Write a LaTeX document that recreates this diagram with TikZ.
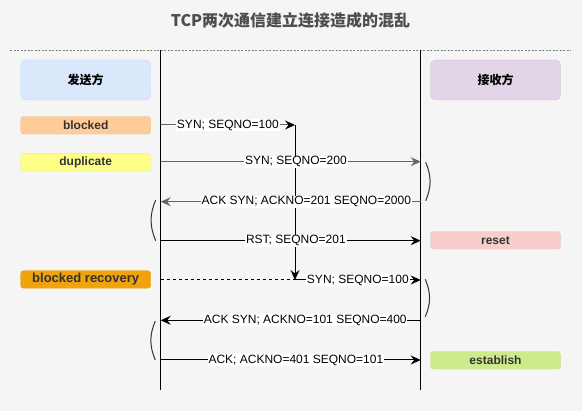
\documentclass[tikz,border=0pt]{standalone}
\usepackage{fontspec}
\setmainfont{Liberation Sans}
\newfontfamily\cjk{Noto Sans CJK SC}
\usetikzlibrary{arrows.meta,positioning}
\definecolor{bgc}{HTML}{F5F5F5}
\definecolor{titlec}{HTML}{4D4D4D}
\definecolor{txt}{HTML}{333333}
\definecolor{msgc}{HTML}{666666}
\definecolor{sendc}{HTML}{DAE8FC}
\definecolor{recvc}{HTML}{E1D5E7}
\definecolor{blockc}{HTML}{FFCC99}
\definecolor{dupc}{HTML}{FFFF88}
\definecolor{resetc}{HTML}{F8CECC}
\definecolor{recovc}{HTML}{F0A30A}
\definecolor{estabc}{HTML}{CDEB8B}

\begin{document}
\begin{tikzpicture}[x=1pt,y=-1pt,
  party/.style={rounded corners=5pt, minimum width=130pt, minimum height=40pt, inner sep=0pt, font=\cjk\fontsize{12}{14}\selectfont\bfseries, text=black},
  tag/.style={rounded corners=3pt, minimum width=130pt, minimum height=17.5pt, inner sep=0pt, font=\fontsize{12}{14}\selectfont\bfseries, text=txt},
  msg/.style={fill=white, inner sep=0.8pt, font=\fontsize{12}{14}\selectfont, text=black},
  tip/.style={-{Stealth[length=10pt,width=9pt,inset=3.5pt]}},
  brace/.style={txt, line width=1pt}]
\fill[bgc] (0,0) rectangle (582,411);
\node[font=\cjk\fontsize{16}{18}\selectfont\bfseries, text=titlec] (title) at (290.5,20) {TCP两次通信建立连接造成的混乱};
\draw[gray, line width=0.8pt, dash pattern=on 2pt off 1.5pt] (10,50.5) -- (571,50.5);

\coordinate (stop) at (160.7,50.5);
\coordinate (sbot) at (160.7,390);
\coordinate (rtop) at (420.7,50.5);
\coordinate (rbot) at (420.7,390);
\draw[line width=1pt] (stop) -- (sbot);
\draw[line width=1pt] (rtop) -- (rbot);

\node[party, fill=sendc, draw=sendc!93!black] (sender) at (85.7,80) {发送方};
\node[party, fill=recvc, draw=recvc!93!black] (receiver) at (495.5,80) {接收方};

\node[tag, fill=blockc, draw=blockc!93!black] (blocked) at (85.7,125.3) {blocked};
\node[tag, fill=dupc, draw=dupc!93!black] (dup) at (85.7,162.2) {duplicate};
\node[tag, fill=resetc, draw=resetc!93!black] (reset) at (495.5,240.3) {reset};
\node[tag, fill=recovc, draw=recovc!93!black, font=\fontsize{13}{15}\selectfont\bfseries] (recov) at (85.7,279.5) {blocked recovery};
\node[tag, fill=estabc, draw=estabc!93!black] (estab) at (495.5,360.3) {establish};

\foreach \n/\y in {1/125,2/161.7,3/201.7,4/240.7,5/280,6/320.3,7/360}{
  \coordinate (s\n) at (160.7,\y);
  \coordinate (r\n) at (420.7,\y);
}
\coordinate (hold) at (295,125);
\coordinate (release) at (295,280);

\draw[-{Stealth[length=10pt,width=9pt,inset=3.5pt,black]}, msgc, line width=1pt] (s1) -- node[msg]{SYN; SEQNO=100} (hold);
\draw[tip, line width=1pt] (hold) -- (release);
\draw[line width=1pt, dash pattern=on 3pt off 3pt] (s5) -- (release);
\draw[tip, line width=1pt] (release) -- node[msg]{SYN; SEQNO=100} (r5);
\draw[tip, msgc, line width=1pt] (s2) -- node[msg, pos=0.52]{SYN; SEQNO=200} (r2);
\draw[tip, msgc, line width=1pt] (r3) -- node[msg, pos=0.44]{ACK SYN; ACKNO=201 SEQNO=2000} (s3);
\draw[tip, line width=1pt] (s4) -- node[msg, pos=0.52]{RST; SEQNO=201} (r4);
\draw[tip, line width=1pt] (r6) -- node[msg, pos=0.444]{ACK SYN; ACKNO=101 SEQNO=400} (s6);
\draw[tip, line width=1pt] (s7) -- node[msg, pos=0.52]{ACK; ACKNO=401 SEQNO=101} (r7);

\draw[brace] (425.7,162.3) to[bend left=23] (425.7,200.7);
\draw[brace] (155.7,200) to[bend right=23] (155.7,240.7);
\draw[brace] (425.3,279.3) to[bend left=23] (425.3,316.7);
\draw[brace] (155.3,321) to[bend right=23] (155.3,360);
\end{tikzpicture}
\end{document}
